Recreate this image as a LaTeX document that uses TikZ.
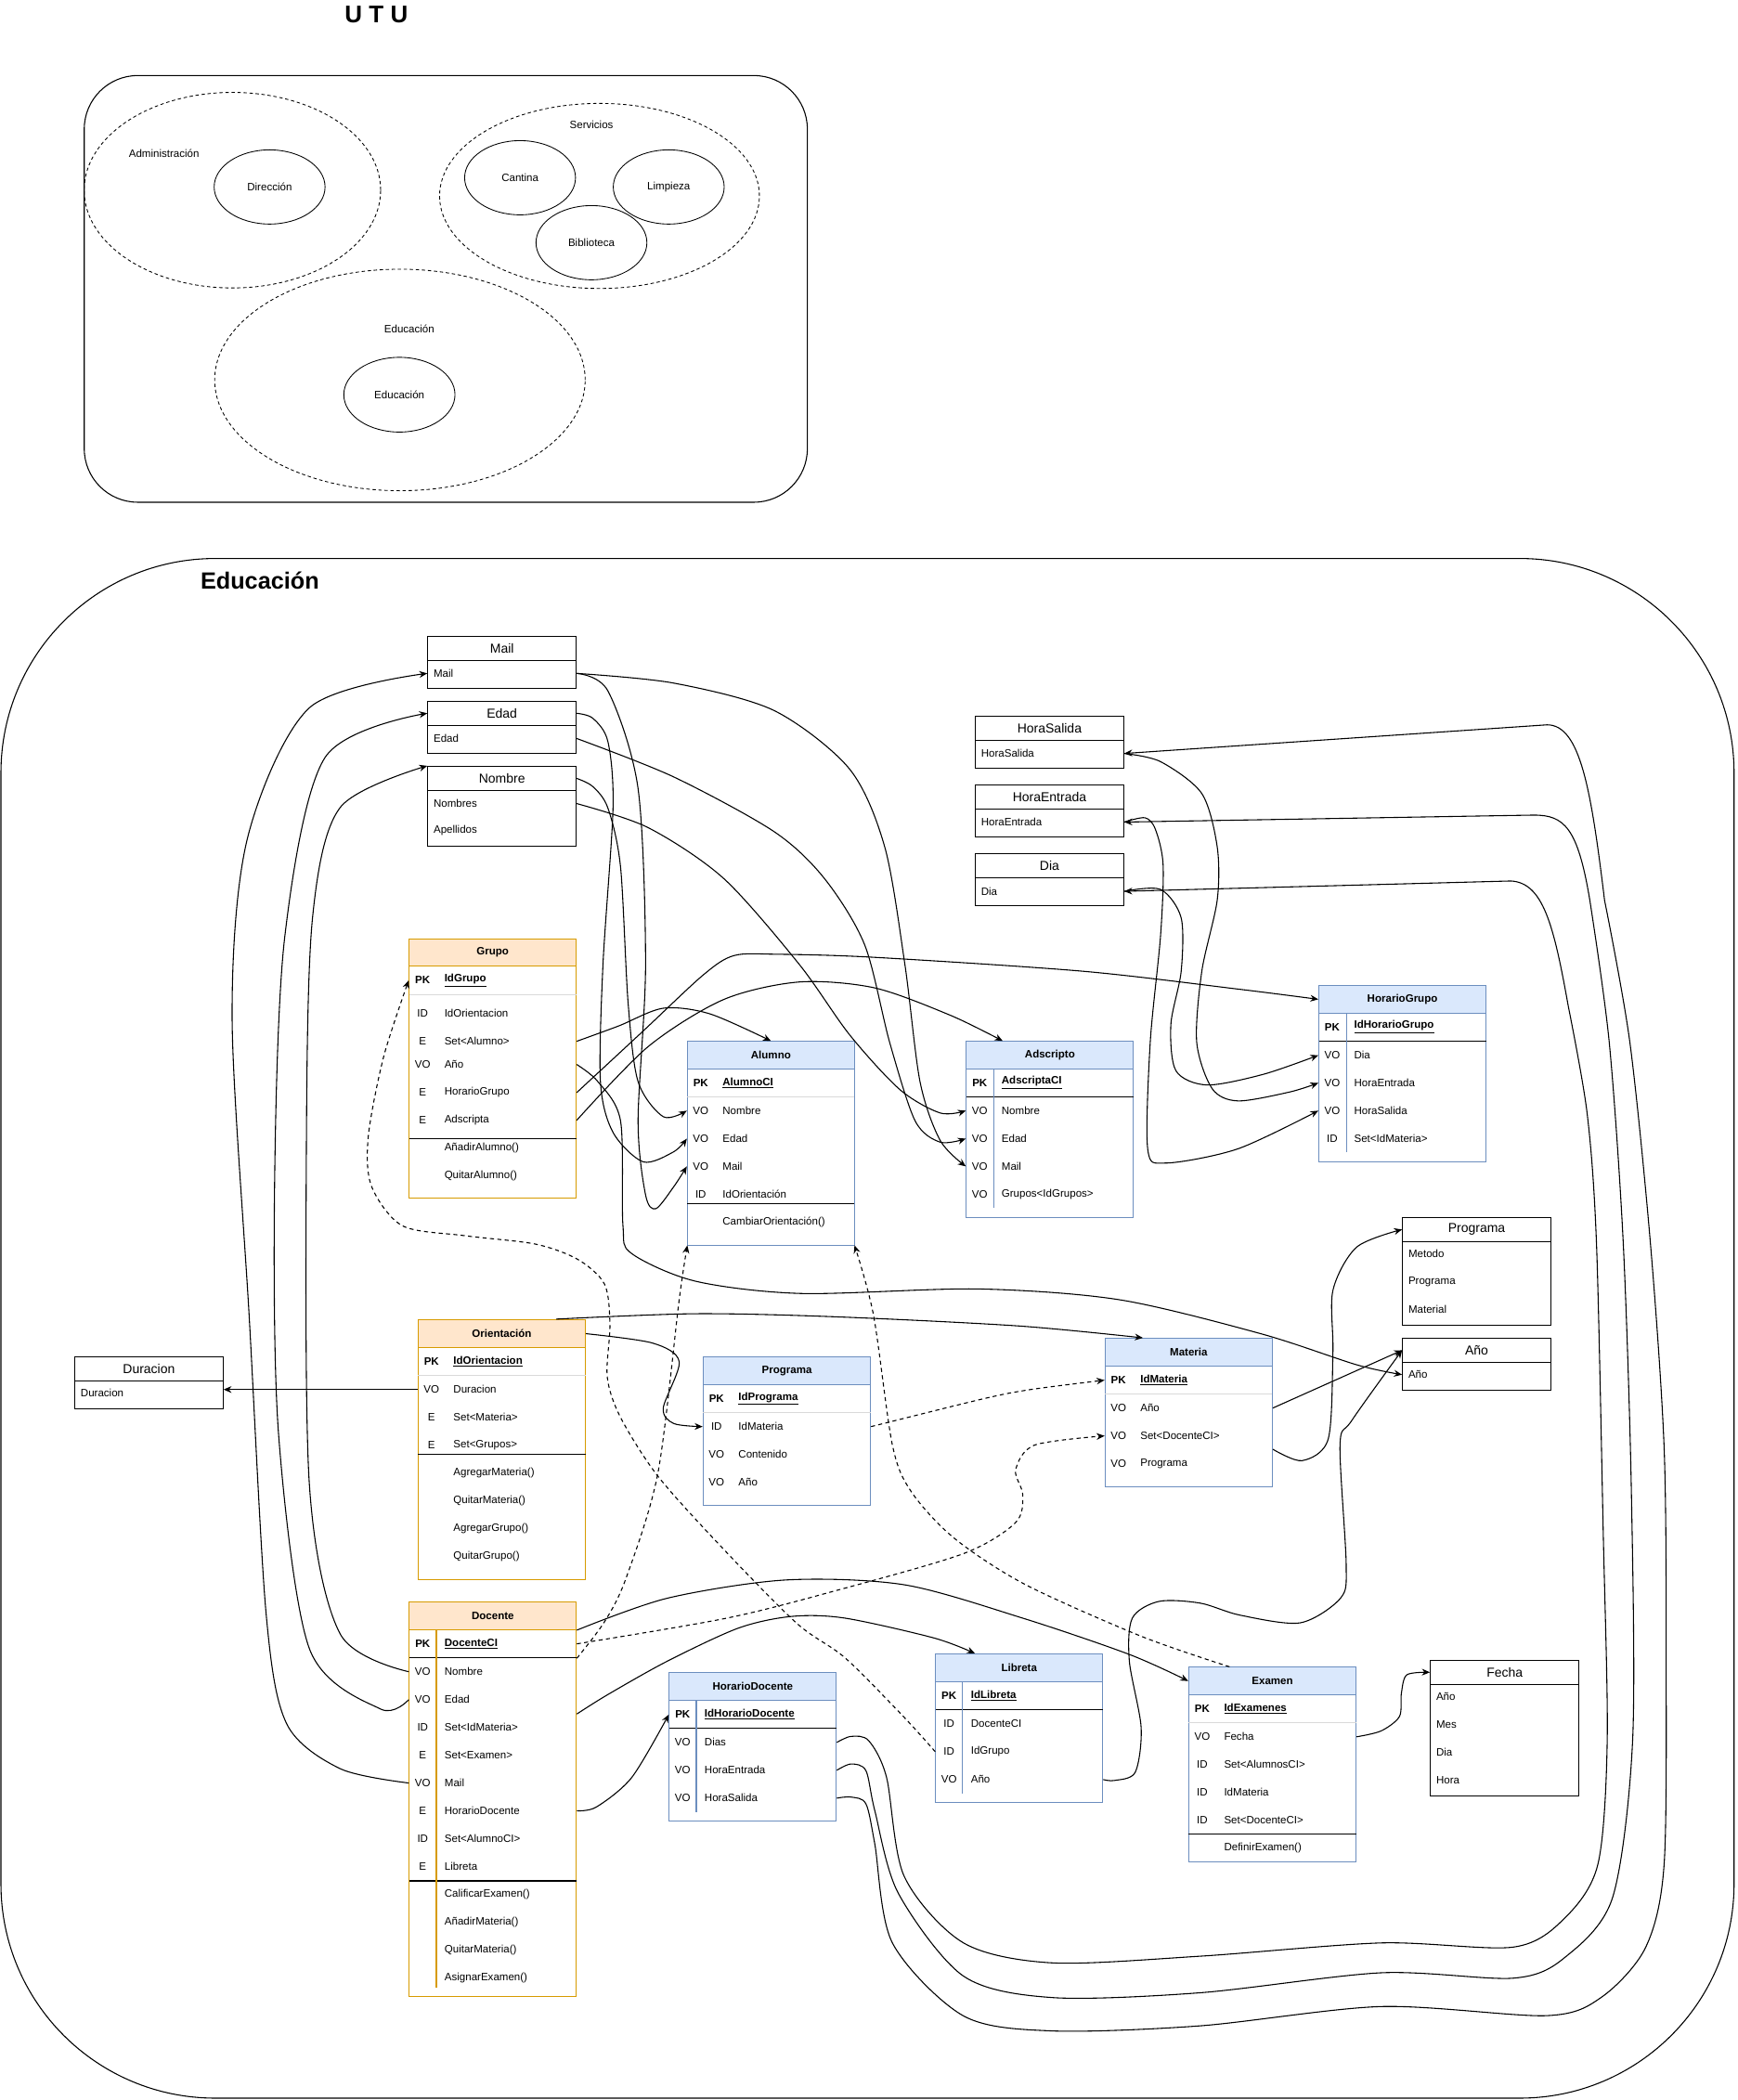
\documentclass[tikz,border=0pt]{standalone}
\usepackage{fontspec}
\setmainfont{Liberation Sans}
\usetikzlibrary{arrows.meta,shapes.geometric}
\definecolor{orafill}{HTML}{FFE6CC}
\definecolor{oraline}{HTML}{D79B00}
\definecolor{blufill}{HTML}{DAE8FC}
\definecolor{bluline}{HTML}{6C8EBF}
\newcommand{\pkname}[1]{\underline{\textbf{#1}}}

\begin{document}
\begin{tikzpicture}[x=1pt, y=-1pt, line width=0.75pt,
  link/.style={-{Stealth[length=6pt,width=5pt]}},
  dotlink/.style={link, dash pattern=on 3pt off 2.5pt},
  rowbox/.style={inner sep=0pt, minimum height=20.8pt},
  keytxt/.style={inner sep=0pt, font=\fontsize{8}{9}\selectfont},
  fieldtxt/.style={inner sep=0pt, anchor=west, font=\fontsize{8}{9}\selectfont},
  tabhead/.style={inner sep=0pt, font=\fontsize{8}{9}\selectfont\bfseries},
  boxtitle/.style={inner sep=0pt, font=\fontsize{9.7}{11}\selectfont},
  zone/.style={ellipse, draw, dash pattern=on 2.5pt off 2pt, line width=0.6pt},
  dept/.style={ellipse, draw, line width=0.6pt, inner sep=0pt, font=\fontsize{8}{9}\selectfont},
  lbl/.style={font=\fontsize{8}{9}\selectfont}
]
\useasboundingbox (0,0) rectangle (1297,1568);

% macros for the tables
\def\tabframe#1#2#3#4#5#6{% name, title, top, head bottom, bottom, colour
  \filldraw[fill=white, draw=#6line] (\xl,#3) rectangle (\xr,#5);
  \node[tabhead, fill=#6fill, draw=#6line, minimum width={(\xr-\xl)*1pt}, minimum height={(#4-#3)*1pt}] (#1) at ({(\xl+\xr)/2},{(#3+#4)/2}) {#2};
}
\def\tabrows#1#2{%
  \foreach \yy/\kk/\ff/\nm in {#2}{
    \node[rowbox, minimum width={(\xr-\xl)*1pt}] (#1-\nm) at ({(\xl+\xr)/2},\yy) {};
    \node[keytxt] at ({\xl+10},\yy) {\kk};
    \node[fieldtxt] at ({\xl+26},\yy) {\ff};
  }
}
\def\plainbox#1#2#3#4#5{% name, title, top, title bottom, bottom
  \filldraw[fill=white] (\xl,#3) rectangle (\xr,#5);
  \draw (\xl,#4) -- (\xr,#4);
  \node[boxtitle, minimum width={(\xr-\xl)*1pt}, minimum height={(#4-#3)*1pt}] (#1-title) at ({(\xl+\xr)/2},{(#3+#4)/2}) {#2};
}
\def\plainrows#1#2{%
  \foreach \yy/\ff/\nm in {#2}{
    \node[rowbox, minimum width={(\xr-\xl)*1pt}] (#1-\nm) at ({(\xl+\xr)/2},\yy) {};
    \node[fieldtxt] at ({\xl+4},\yy) {\ff};
  }
}

% U T U
\node[font=\fontsize{18}{20}\selectfont\bfseries] (utu) at (281,11) {U T U};
\draw[rounded corners=40pt] (62.9,56.4) rectangle (602.8,375);
\node[zone, minimum width=221.4pt, minimum height=146pt] (admin) at (173.5,142) {};
\node[lbl] (admin-l) at (122.5,114.6) {Administración};
\node[dept, minimum width=82.8pt, minimum height=55.4pt] (dir) at (201.3,139.6) {Dirección};
\node[zone, minimum width=238.8pt, minimum height=138.2pt] (serv) at (447.6,146.3) {};
\node[lbl] (serv-l) at (441.6,93.3) {Servicios};
\node[dept, minimum width=82.8pt, minimum height=55.4pt] (cantina) at (388.3,132.7) {Cantina};
\node[dept, minimum width=82.8pt, minimum height=55.4pt] (limpieza) at (499.3,139.6) {Limpieza};
\node[dept, minimum width=82.8pt, minimum height=55.4pt] (biblio) at (441.6,181.2) {Biblioteca};
\node[zone, minimum width=276.6pt, minimum height=165.4pt] (edu) at (298.6,283.7) {};
\node[lbl] (edu-l) at (305.6,245.8) {Educación};
\node[dept, minimum width=83pt, minimum height=55.8pt] (educ) at (298.2,294.7) {Educación};

% Educacion
\draw[rounded corners=160pt] (0.7,417) rectangle (1294.7,1566.6);
\node[font=\fontsize{17.5}{20}\selectfont\bfseries] (edu-t) at (194,433.6) {Educación};

% Grupo
\def\xl{305.5}\def\xr{430.2}
\tabframe{grupo}{Grupo}{701.1}{721.5}{894.8}{ora}
\tabrows{grupo}{732/\textbf{PK}/\pkname{IdGrupo}/pk, 756.6/ID/IdOrientacion/idor, 777.5/E/Set<Alumno>/set, 794.8/VO/Año/anio, 815.8/E/HorarioGrupo/hg, 836.5/E/Adscripta/adsc, 857.2//AñadirAlumno()/m1, 877.9//QuitarAlumno()/m2}
\draw[gray!30] (\xl,742.5) -- (\xr,742.5);
\draw (\xl,850.2) -- (\xr,850.2);

% Alumno
\def\xl{513.2}\def\xr{638}
\tabframe{alumno}{Alumno}{777.6}{798}{929.8}{blu}
\tabrows{alumno}{808.5/\textbf{PK}/\pkname{AlumnoCI}/pk, 829.3/VO/Nombre/nom, 850.2/VO/Edad/edad, 870.9/VO/Mail/mail, 891.7/ID/IdOrientación/idor, 912.5//CambiarOrientación()/m1}
\draw[gray!30] (\xl,819) -- (\xr,819);
\draw (\xl,898.7) -- (\xr,898.7);
\coordinate (alumno-bl) at (\xl,929.8);
\coordinate (alumno-br) at (\xr,929.8);

% Adscripto
\def\xl{721.5}\def\xr{846.3}
\tabframe{adsc}{Adscripto}{777.6}{798}{909}{blu}
\tabrows{adsc}{808.5/\textbf{PK}/\pkname{AdscriptaCI}/pk, 829.3/VO/Nombre/nom, 850.2/VO/Edad/edad, 870.9/VO/Mail/mail, 891.7/VO/Grupos<IdGrupos>/grupos}
\draw (\xl,819) -- (\xr,819);
\draw[bluline] (\xl+20.5,798) -- (\xl+20.5,902);

% HorarioGrupo
\def\xl{984.7}\def\xr{1109.5}
\tabframe{hg}{HorarioGrupo}{735.8}{756.5}{867.4}{blu}
\tabrows{hg}{766.9/\textbf{PK}/\pkname{IdHorarioGrupo}/pk, 787.9/VO/Dia/dia, 808.6/VO/HoraEntrada/he, 829.3/VO/HoraSalida/hs, 850.2/ID/Set<IdMateria>/set}
\draw (\xl,777.4) -- (\xr,777.4);
\draw[bluline] (\xl+20.8,756.5) -- (\xl+20.8,860);

% Orientacion
\def\xl{312.2}\def\xr{437.1}
\tabframe{ori}{Orientación}{985.3}{1006.3}{1179.6}{ora}
\tabrows{ori}{1016.7/\textbf{PK}/\pkname{IdOrientacion}/pk, 1037.5/VO/Duracion/dur, 1058.3/E/Set<Materia>/setm, 1079.1/E/Set<Grupos>/setg, 1099.9//AgregarMateria()/m1, 1120.7//QuitarMateria()/m2, 1141.5//AgregarGrupo()/m3, 1162.3//QuitarGrupo()/m4}
\draw[gray!30] (\xl,1027) -- (\xr,1027);
\draw (\xl,1086) -- (\xr,1086);

% Programa (tabla)
\def\xl{525}\def\xr{650}
\tabframe{prgt}{Programa}{1013}{1034}{1123.7}{blu}
\tabrows{prgt}{1044.4/\textbf{PK}/\pkname{IdPrograma}/pk, 1065.2/ID/IdMateria/idmat, 1086/VO/Contenido/cont, 1106.8/VO/Año/anio}
\draw[gray!30] (\xl,1054.8) -- (\xr,1054.8);

% Materia
\def\xl{825.1}\def\xr{950}
\tabframe{mat}{Materia}{999.3}{1020.1}{1110}{blu}
\tabrows{mat}{1030.5/\textbf{PK}/\pkname{IdMateria}/pk, 1051.3/VO/Año/anio, 1072.1/VO/Set<DocenteCI>/set, 1092.9/VO/Programa/prog}
\draw[gray!30] (\xl,1041) -- (\xr,1041);

% Docente
\def\xl{305.6}\def\xr{430.3}
\tabframe{doc}{Docente}{1196}{1216.8}{1491}{ora}
\tabrows{doc}{1227.4/\textbf{PK}/\pkname{DocenteCI}/pk, 1248.2/VO/Nombre/nom, 1269/VO/Edad/edad, 1289.7/ID/Set<IdMateria>/setmat, 1310.5/E/Set<Examen>/setex, 1331.3/VO/Mail/mail, 1352/E/HorarioDocente/hd, 1372.8/ID/Set<AlumnoCI>/setal, 1393.6/E/Libreta/lib, 1414.2//CalificarExamen()/m1, 1435//AñadirMateria()/m2, 1455.8//QuitarMateria()/m3, 1476.6//AsignarExamen()/m4}
\draw (\xl,1237.8) -- (\xr,1237.8);
\draw (\xl,1404.4) -- (\xr,1404.4);
\draw[oraline] (\xl+20.2,1216.8) -- (\xl+20.2,1484);

% HorarioDocente
\def\xl{499.7}\def\xr{624.4}
\tabframe{hdoc}{HorarioDocente}{1248.7}{1269.8}{1359.6}{blu}
\tabrows{hdoc}{1280.2/\textbf{PK}/\pkname{IdHorarioDocente}/pk, 1301/VO/Dias/dias, 1321.8/VO/HoraEntrada/he, 1342.6/VO/HoraSalida/hs}
\draw (\xl,1290.6) -- (\xr,1290.6);
\draw[bluline] (\xl+20.2,1269.8) -- (\xl+20.2,1353);

% Libreta
\def\xl{698.6}\def\xr{823.3}
\tabframe{lib}{Libreta}{1234.9}{1255.7}{1345.8}{blu}
\tabrows{lib}{1266.3/\textbf{PK}/\pkname{IdLibreta}/pk, 1287.1/ID/DocenteCI/doc, 1307.9/ID/IdGrupo/idg, 1328.7/VO/Año/anio}
\draw (\xl,1276.7) -- (\xr,1276.7);
\draw[bluline] (\xl+20.2,1255.7) -- (\xl+20.2,1339);

% Examen
\def\xl{887.6}\def\xr{1012.5}
\tabframe{exam}{Examen}{1244.9}{1265.4}{1390.4}{blu}
\tabrows{exam}{1276/\textbf{PK}/\pkname{IdExamenes}/pk, 1296.8/VO/Fecha/fecha, 1317.6/ID/Set<AlumnosCI>/setal, 1338.4/ID/IdMateria/idmat, 1359.2/ID/Set<DocenteCI>/setdoc, 1380//DefinirExamen()/m1}
\draw[gray!30] (\xl,1286.4) -- (\xr,1286.4);
\draw (\xl,1369.7) -- (\xr,1369.7);

% value objects
\def\xl{319.4}\def\xr{430.2}
\plainbox{mailb}{Mail}{475}{493.1}{513.8}
\plainrows{mailb}{502.8/Mail/attr}
\plainbox{edadb}{Edad}{523.7}{541.5}{562.5}
\plainrows{edadb}{551.4/Edad/attr}
\plainbox{nombreb}{Nombre}{572.2}{590.2}{632}
\plainrows{nombreb}{600/Nombres/noms, 620/Apellidos/apes}
\def\xl{728.2}\def\xr{839}
\plainbox{hsb}{HoraSalida}{534.8}{552.9}{573.3}
\plainrows{hsb}{562.6/HoraSalida/attr}
\plainbox{heb}{HoraEntrada}{586.2}{604}{624.7}
\plainrows{heb}{613.8/HoraEntrada/attr}
\plainbox{diab}{Dia}{637.5}{655.3}{676}
\plainrows{diab}{665.5/Dia/attr}
\def\xl{1047.2}\def\xr{1157.9}
\plainbox{progb}{Programa}{909}{927}{989.4}
\plainrows{progb}{936.3/Metodo/met, 957/Programa/prog, 977.9/Material/mat}
\plainbox{aniob}{Año}{999.3}{1017.1}{1037.9}
\plainrows{aniob}{1026.4/Año/attr}
\def\xl{55.9}\def\xr{166.5}
\plainbox{durb}{Duracion}{1013}{1031}{1051.8}
\plainrows{durb}{1040.3/Duracion/attr}
\def\xl{1068}\def\xr{1179}
\plainbox{fechab}{Fecha}{1239.6}{1257.7}{1340.8}
\plainrows{fechab}{1267/Año/anio, 1287.8/Mes/mes, 1308.6/Dia/dia, 1329.3/Hora/hora}

% ends on table tops
\coordinate (adsc-in) at ([xshift=27.5pt]adsc.north west);
\coordinate (ori-out) at ([xshift=103.4pt]ori.north west);
\coordinate (mat-in) at ([xshift=28.6pt]mat.north west);
\coordinate (lib-in) at ([xshift=29.7pt]lib.north west);
\coordinate (exam-out) at ([xshift=30.8pt]exam.north west);

% Docente to the value objects
\draw[link] plot[smooth] coordinates {(doc-mail.west) (254,1320.6) (214,1287) (198.7,1205) (186,982) (173.3,759.2) (184.9,625.3) (231,528.5) (mailb-attr.west)};
\draw[link] plot[smooth] coordinates {(doc-edad.west) (284,1276) (231,1231) (208,1071) (205,885.5) (212.6,699.6) (242.6,565.7) (edadb-title.west)};
\draw[link] plot[smooth] coordinates {(doc-nom.west) (254,1220) (231,1108.6) (228.8,848.3) (233.4,684.7) (254,602.9) (nombreb-title.north west)};

% value objects to Alumno and Adscripto
\draw[link] plot[smooth] coordinates {(mailb-attr.east) (453.9,515.9) (476.4,588.8) (482,720) (476.4,836.8) (482,892.2) (489.6,902.5) (502.8,886.4) (alumno-mail.west)};
\draw[link] plot[smooth] coordinates {(edadb-title.east) (442.6,536.3) (453.9,553.8) (457.7,603.4) (450.2,720) (448.3,807.6) (457.7,845.5) (480.2,867.5) (502.8,860.1) (alumno-edad.west)};
\draw[link] plot[smooth] coordinates {(nombreb-title.east) (442.6,587.3) (453.9,603.4) (463.3,647.2) (469,749.3) (476.4,807.6) (495.2,833.8) (alumno-nom.west)};
\draw[link] plot[smooth] coordinates {(mailb-attr.east) (502.8,510) (577.9,530.5) (634.3,574.2) (660.6,632.5) (675.6,720) (686.9,807.6) (701.9,851.4) (adsc-mail.west)};
\draw[link] plot[smooth] coordinates {(edadb-attr.east) (502.8,580) (577.9,620.9) (615.5,655.9) (645.6,705.5) (664.3,778.5) (683.2,836.8) (701.9,852.8) (adsc-edad.west)};
\draw[link] plot[smooth] coordinates {(nombreb-noms.east) (484,618) (540.3,655.9) (596.7,720) (634.3,772.6) (671.8,813.5) (701.9,831) (adsc-nom.west)};

% Grupo
\draw[link] plot[smooth] coordinates {(grupo-set.east) (462,766) (495.2,752.8) (530,757) (alumno.north)};
\draw[link] plot[smooth] coordinates {(grupo-hg.east) (480,770) (525,728) (548,713.5) (580,712.5) (653,714.8) (808.7,725.2) (924.2,738.5) (hg.west)};
\draw[link] plot[smooth] coordinates {(grupo-adsc.east) (484,781.4) (540.3,746.3) (596.7,733.2) (653,737.6) (709.4,758) (adsc-in)};
\draw[link] plot[smooth] coordinates {(grupo-anio.east) (446.4,807.6) (463.3,836.8) (465.1,915) (471.4,935.8) (519.2,956.6) (598.7,965.8) (730,962.4) (836,970.5) (942,996) (1012.8,1019) (aniob-attr.west)};

% Orientacion
\draw[link] plot[smooth] coordinates {(ori-out) (519.1,980.9) (623.9,983.2) (760,990) (mat-in)};
\draw[link] plot[smooth] coordinates {(ori.east) (487.2,1002.8) (507.1,1016.7) (495.2,1051.4) (503.1,1062.9) (prgt-idmat.west)};
\draw[link] (ori-dur.west) -- (ori-dur.west -| durb-attr.east);

% Materia and Libreta
\draw[link] (mat-anio.east) -- (aniob-title.west);
\draw[link] plot[smooth] coordinates {(mat-prog.north east) (972.2,1090.6) (991.7,1074.4) (995.2,1009.8) (995.2,963.5) (1012.9,931.2) (progb-title.west)};
\draw[link] plot[smooth] coordinates {(lib-anio.east) (832.1,1329.4) (847.6,1323.3) (852,1289.8) (843.2,1240.3) (845.4,1208.2) (865.3,1195.7) (896.2,1197) (926,1206) (970.8,1211.7) (1001,1193.1) (1005.1,1168.3) (1000.5,1079) (1009.3,1060.6) (aniob-title.west)};

% Docente
\draw[link] plot[smooth] coordinates {(doc-hd.east) (445.3,1349.2) (471.8,1327) (hdoc-pk.west)};
\draw[link] plot[smooth] coordinates {(doc-edad.south east) (454.1,1265.1) (498.3,1240.3) (551.4,1215.6) (591.2,1206.9) (631,1208.2) (697.3,1223) (lib-in)};
\draw[link] plot[smooth] coordinates {(doc.south east) (498.3,1193.3) (586.7,1179.7) (675.2,1183.3) (763.6,1208.2) (843.2,1235.3) (exam.west)};

% dotted links
\draw[dotlink] plot[smooth] coordinates {(doc-pk.east) (542.6,1208.2) (623.9,1187.7) (719.4,1160) (758.3,1136.8) (763.6,1116) (758.3,1097.5) (772.4,1079) (mat-set.west)};
\draw[dotlink] plot[smooth] coordinates {(prgt-idmat.east) (734.2,1044.4) (769.6,1037.5) (mat-pk.west)};
\draw[dotlink] plot[smooth] coordinates {(doc-pk.south east) (451.4,1210.8) (467.4,1178.4) (491.2,1099.9) (507.1,970.5) (alumno-bl)};
\draw[dotlink] plot[smooth] coordinates {(exam-out) (852,1221.7) (765.3,1183) (712.3,1148.4) (680.4,1113.8) (666.3,1079) (652.2,982) (alumno-br)};
\draw[dotlink] plot[smooth] coordinates {(lib-idg.west) (675.2,1282.4) (631,1237.9) (594.7,1211.9) (539,1155.4) (491.2,1102.2) (463.3,1058.3) (453.4,1028.2) (455.4,989) (451.4,958.9) (431.5,940.4) (399.7,928.9) (346.6,922.6) (300.4,915.2) (277.3,885.5) (275,848.3) (286.5,788.8) (grupo-pk.west)};

% HorarioDocente to the hour boxes
\draw[link] plot[smooth] coordinates {(hdoc-dias.east) (635.4,1296.5) (648.6,1299.7) (661.9,1327) (675.2,1401.2) (719.4,1450.7) (785.7,1465.6) (896.2,1460.6) (1031.2,1450.7) (1130,1453.8) (1168.4,1432) (1193.1,1391.7) (1200,1298.6) (1197,1143.4) (1192,928.9) (1185,831.3) (1171,751.7)}
  .. controls (1160,690) and (1152,659) .. (1128,657.8) -- (diab-attr.east);
\draw[link] plot[smooth] coordinates {(hdoc-he.east) (635.4,1317.1) (646.5,1322) (653.1,1351.7) (670.7,1413.6) (719.4,1475.5) (785.7,1491.5) (896.2,1487.9) (1031.2,1473) (1130,1477) (1168.4,1461.5) (1204.1,1416.5) (1219,1298.6) (1218,1112.4) (1212,928.9) (1201.5,778.2) (1187,672.1)}
  .. controls (1178,618) and (1168,608.5) .. (1145,608.6) -- (heb-attr.east);
\draw[link] plot[smooth] coordinates {(hdoc-hs.east) (635.4,1341.8) (646.5,1346.8) (653.1,1376.5) (666.3,1450.7) (719.4,1505.2) (785.7,1516.4) (896.2,1512.6) (1031.2,1498.2) (1154.7,1505) (1195.9,1491.1) (1228.8,1453.8) (1242.5,1391.7) (1244,1236.5) (1242.5,1081.4) (1232.3,928.9) (1216.9,778.2) (1198,672.1)}
  .. controls (1188,590) and (1180,541) .. (1155,541.2) -- (hsb-attr.east);

% hour boxes to HorarioGrupo
\draw[link] plot[smooth] coordinates {(diab-attr.east) (866.5,664.1) (881.9,685.4) (881.9,725.2) (874.2,765) (878,799.5) (901.2,810.1) (943.4,802.1) (hg-dia.west)};
\draw[link] plot[smooth] coordinates {(heb-attr.east) (854.9,610.6) (862.6,619.1) (868.4,645.6) (866.5,698.7) (858.8,778.2) (856.9,857.8) (870.3,868.4) (924.2,857.8) (hg-hs.west)};
\draw[link] plot[smooth] coordinates {(hsb-attr.east) (866.5,568.7) (897.3,592.5) (908.8,632.3) (908.8,672.1) (897.3,725.2) (893.5,778.2) (905,812.8) (924.2,822) (962.7,815.4) (hg-he.west)};

% Examen to Fecha
\draw[link] plot[smooth] coordinates {(exam-fecha.east) (1031.2,1292.4) (1044.9,1281.6) (1046.3,1264.4) (1050.4,1250.5) (fechab-title.west)};

\end{tikzpicture}
\end{document}
